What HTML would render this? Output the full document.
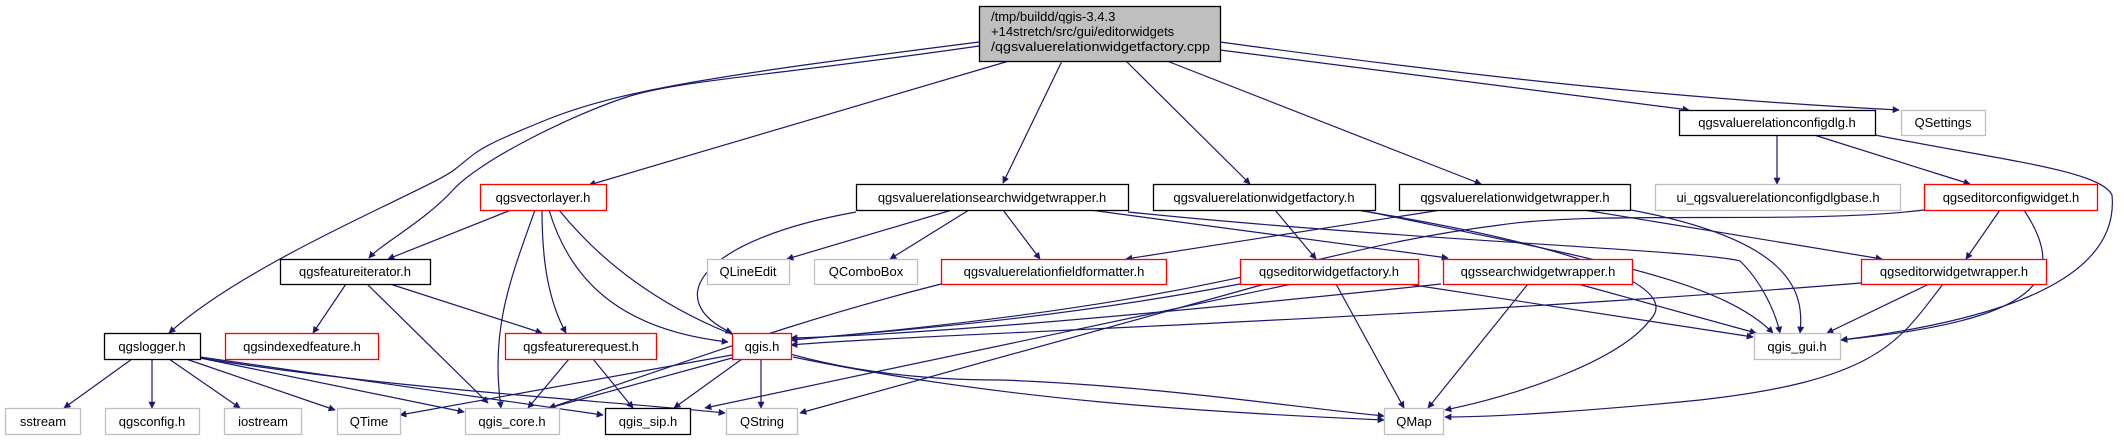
<!DOCTYPE html>
<html><head><meta charset="utf-8"><style>
html,body{margin:0;padding:0;background:#fff;width:2124px;height:440px;overflow:hidden}
text{font-family:"Liberation Sans",sans-serif;font-size:13px;fill:#000}
.e{fill:none;stroke:#191970;stroke-width:1.2;marker-end:url(#a)}
</style></head><body>
<svg width="2124" height="440" xmlns="http://www.w3.org/2000/svg">
<defs><marker id="a" viewBox="0 0 10 10" refX="9" refY="5" markerWidth="9" markerHeight="7" orient="auto" markerUnits="userSpaceOnUse"><path d="M0,0L10,5L0,10z" fill="#191970"/></marker></defs>
<g>
<path class="e" d="M979,42 C720,75 620,90 546,120 S480,150 454,170 S250,260 169,333"/>
<path class="e" d="M979,46 C780,75 680,80 627,97 S480,160 453,190 S380,245 369,258"/>
<path class="e" d="M1009,61 L589,185"/>
<path class="e" d="M1062,61 L1003,183"/>
<path class="e" d="M1126,61 L1250,184"/>
<path class="e" d="M1167,61 L1481,184"/>
<path class="e" d="M1220,50 L1689,110"/>
<path class="e" d="M1220,42 C1500,80 1700,100 1899,110"/>
<path class="e" d="M511,210 L388,259"/>
<path class="e" d="M535,210 C510,280 490,330 501,408"/>
<path class="e" d="M542,210 C542,260 548,300 566,333"/>
<path class="e" d="M549,210 C570,280 620,330 728,342"/>
<path class="e" d="M559,210 C640,310 780,380 1000,380 C1150,385 1300,408 1384,416"/>
<path class="e" d="M856,212 C700,240 660,300 732,333"/>
<path class="e" d="M952,210 L787,259"/>
<path class="e" d="M969,210 L890,259"/>
<path class="e" d="M1003,210 L1040,259"/>
<path class="e" d="M1090,210 L1448,258"/>
<path class="e" d="M1128,212 C1400,240 1700,250 1740,261 C1760,280 1775,310 1780,333"/>
<path class="e" d="M1275,210 L1316,259"/>
<path class="e" d="M1357,210 C1600,250 1680,290 1650,320 C1620,360 1520,395 1445,410"/>
<path class="e" d="M1360,210 C1600,260 1720,280 1773,333"/>
<path class="e" d="M1441,210 L1126,259"/>
<path class="e" d="M1584,210 L1882,259"/>
<path class="e" d="M1631,210 C1790,240 1805,290 1800,333"/>
<path class="e" d="M1777,135 L1777,184"/>
<path class="e" d="M1814,135 L1970,184"/>
<path class="e" d="M1875,135 C2000,160 2100,170 2112,195 C2120,280 2000,320 1841,340"/>
<path class="e" d="M2000,210 L1966,259"/>
<path class="e" d="M2024,210 C2070,280 2040,320 1841,340"/>
<path class="e" d="M1924,210 C1800,225 1600,210 1500,225 C1300,250 1250,300 791,340"/>
<path class="e" d="M941,284 C800,320 720,350 549,408"/>
<path class="e" d="M1240,284 C1050,320 900,330 791,340"/>
<path class="e" d="M1292,284 L705,408"/>
<path class="e" d="M1265,284 L800,413"/>
<path class="e" d="M1336,284 L1404,408"/>
<path class="e" d="M1407,284 L1753,337"/>
<path class="e" d="M1441,284 C1100,320 900,335 791,338"/>
<path class="e" d="M1528,284 L1428,408"/>
<path class="e" d="M1578,284 L1756,333"/>
<path class="e" d="M1861,283 C1400,320 900,335 791,345"/>
<path class="e" d="M1929,284 L1827,333"/>
<path class="e" d="M1943,284 C1900,340 1880,380 1700,400 C1600,410 1500,417 1445,417"/>
<path class="e" d="M346,284 L313,333"/>
<path class="e" d="M367,284 L488,403"/>
<path class="e" d="M390,284 L542,333"/>
<path class="e" d="M569,359 L528,408"/>
<path class="e" d="M593,359 L633,408"/>
<path class="e" d="M732,355 L400,415"/>
<path class="e" d="M732,358 L549,408"/>
<path class="e" d="M742,359 L674,408"/>
<path class="e" d="M761,359 L761,408"/>
<path class="e" d="M793,357 C1000,400 1200,412 1384,420"/>
<path class="e" d="M132,359 L64,408"/>
<path class="e" d="M152,359 L152,408"/>
<path class="e" d="M169,359 L240,408"/>
<path class="e" d="M186,359 L335,410"/>
<path class="e" d="M200,358 L464,412"/>
<path class="e" d="M200,357 L603,415"/>
<path class="e" d="M200,358 C400,390 600,400 725,413"/>
</g>
<g stroke-width="1.3">
<rect x="979.5" y="6.5" width="241" height="55" fill="#bfbfbf" stroke="#000"/>
<text x="991" y="21">/tmp/buildd/qgis-3.4.3</text>
<text x="991" y="36">+14stretch/src/gui/editorwidgets</text>
<text x="991" y="51" textLength="219" lengthAdjust="spacingAndGlyphs">/qgsvaluerelationwidgetfactory.cpp</text>
</g>
<g fill="#fff" stroke-width="1.3">
<rect x="480.5" y="184.5" width="126" height="26" stroke="#f00"/>
<rect x="856.5" y="184.5" width="272" height="26" stroke="#000"/>
<rect x="1153.5" y="184.5" width="222" height="26" stroke="#000"/>
<rect x="1399.5" y="184.5" width="231" height="26" stroke="#000"/>
<rect x="1679.5" y="110.5" width="196" height="25" stroke="#000"/>
<rect x="1901.5" y="110.5" width="84" height="25" stroke="#bfbfbf"/>
<rect x="1655.5" y="184.5" width="245" height="26" stroke="#bfbfbf"/>
<rect x="1924.5" y="184.5" width="173" height="26" stroke="#f00"/>
<rect x="280.5" y="259.5" width="150" height="25" stroke="#000"/>
<rect x="707.5" y="259.5" width="82" height="25" stroke="#bfbfbf"/>
<rect x="814.5" y="259.5" width="103" height="25" stroke="#bfbfbf"/>
<rect x="941.5" y="259.5" width="225" height="25" stroke="#f00"/>
<rect x="1240.5" y="259.5" width="178" height="25" stroke="#f00"/>
<rect x="1443.5" y="259.5" width="189" height="25" stroke="#f00"/>
<rect x="1861.5" y="259.5" width="185" height="25" stroke="#f00"/>
<rect x="104.5" y="333.5" width="96" height="26" stroke="#000"/>
<rect x="225.5" y="333.5" width="153" height="26" stroke="#f00"/>
<rect x="505.5" y="333.5" width="151" height="26" stroke="#f00"/>
<rect x="732.5" y="333.5" width="59" height="26" stroke="#f00"/>
<rect x="1754.5" y="333.5" width="86" height="26" stroke="#bfbfbf"/>
<rect x="5.5" y="408.5" width="75" height="26" stroke="#bfbfbf"/>
<rect x="105.5" y="408.5" width="94" height="26" stroke="#bfbfbf"/>
<rect x="224.5" y="408.5" width="77" height="26" stroke="#bfbfbf"/>
<rect x="337.5" y="408.5" width="63" height="26" stroke="#bfbfbf"/>
<rect x="465.5" y="408.5" width="94" height="26" stroke="#bfbfbf"/>
<rect x="605.5" y="408.5" width="85" height="26" stroke="#000"/>
<rect x="726.5" y="408.5" width="71" height="26" stroke="#bfbfbf"/>
<rect x="1384.5" y="408.5" width="59" height="26" stroke="#bfbfbf"/>
</g>
<g text-anchor="middle">
<text x="543" y="202">qgsvectorlayer.h</text>
<text x="992" y="202">qgsvaluerelationsearchwidgetwrapper.h</text>
<text x="1264" y="202">qgsvaluerelationwidgetfactory.h</text>
<text x="1515" y="202">qgsvaluerelationwidgetwrapper.h</text>
<text x="1777" y="127">qgsvaluerelationconfigdlg.h</text>
<text x="1943" y="127">QSettings</text>
<text x="1778" y="202">ui_qgsvaluerelationconfigdlgbase.h</text>
<text x="2011" y="202">qgseditorconfigwidget.h</text>
<text x="355" y="276">qgsfeatureiterator.h</text>
<text x="748" y="276">QLineEdit</text>
<text x="866" y="276">QComboBox</text>
<text x="1054" y="276">qgsvaluerelationfieldformatter.h</text>
<text x="1329" y="276">qgseditorwidgetfactory.h</text>
<text x="1538" y="276">qgssearchwidgetwrapper.h</text>
<text x="1954" y="276">qgseditorwidgetwrapper.h</text>
<text x="152" y="351">qgslogger.h</text>
<text x="302" y="351">qgsindexedfeature.h</text>
<text x="581" y="351">qgsfeaturerequest.h</text>
<text x="762" y="351">qgis.h</text>
<text x="1797" y="351">qgis_gui.h</text>
<text x="43" y="426">sstream</text>
<text x="152" y="426">qgsconfig.h</text>
<text x="263" y="426">iostream</text>
<text x="369" y="426">QTime</text>
<text x="512" y="426">qgis_core.h</text>
<text x="648" y="426">qgis_sip.h</text>
<text x="762" y="426">QString</text>
<text x="1414" y="426">QMap</text>
</g>
</svg>
</body></html>
